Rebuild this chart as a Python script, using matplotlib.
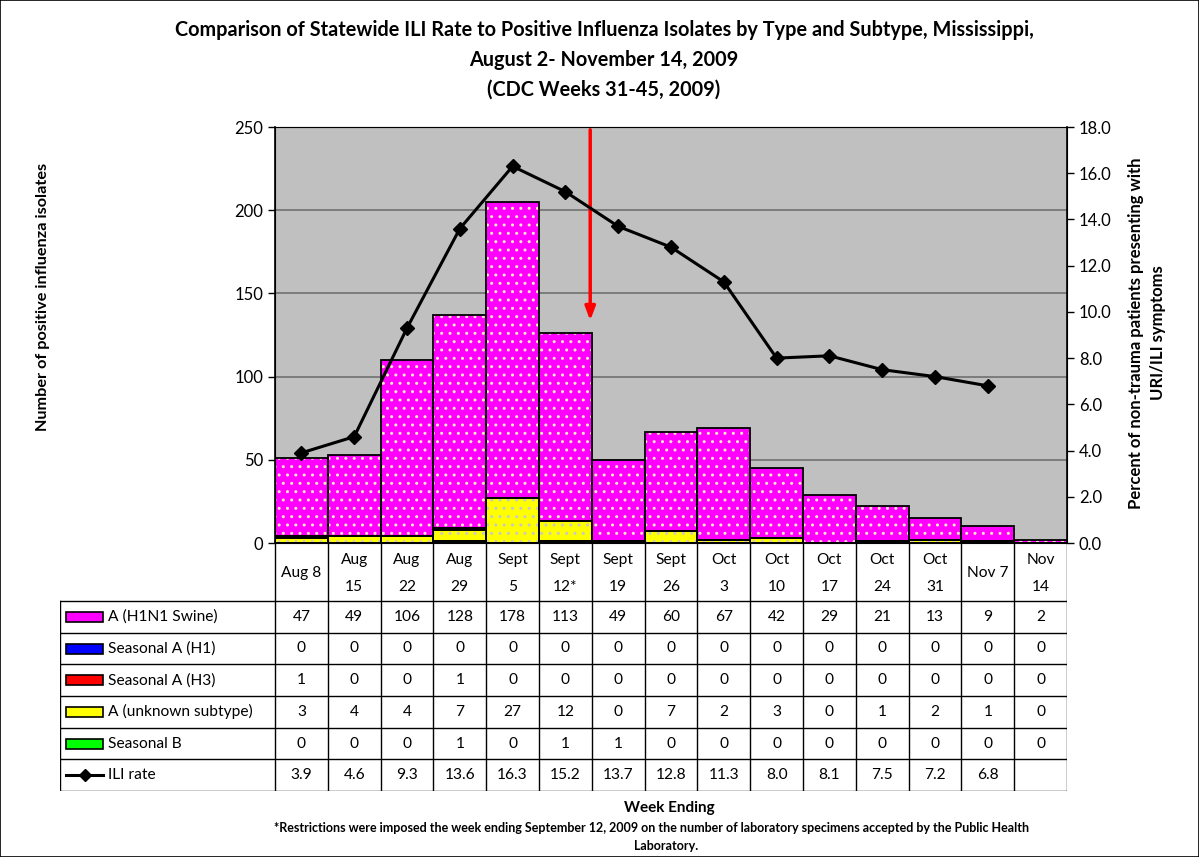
import numpy as np
import matplotlib
matplotlib.use("Agg")
import matplotlib.pyplot as plt
from matplotlib.patches import Rectangle

plt.rcParams['font.family'] = ['Lato', 'DejaVu Sans']

weeks = ["Aug 8", "Aug\n15", "Aug\n22", "Aug\n29", "Sept\n5", "Sept\n12*", "Sept\n19",
         "Sept\n26", "Oct\n3", "Oct\n10", "Oct\n17", "Oct\n24", "Oct\n31", "Nov 7", "Nov\n14"]
h1n1 = [47, 49, 106, 128, 178, 113, 49, 60, 67, 42, 29, 21, 13, 9, 2]
sea_h1 = [0, 0, 0, 0, 0, 0, 0, 0, 0, 0, 0, 0, 0, 0, 0]
sea_h3 = [1, 0, 0, 1, 0, 0, 0, 0, 0, 0, 0, 0, 0, 0, 0]
unknown = [3, 4, 4, 7, 27, 12, 0, 7, 2, 3, 0, 1, 2, 1, 0]
sea_b = [0, 0, 0, 1, 0, 1, 1, 0, 0, 0, 0, 0, 0, 0, 0]
ili = [3.9, 4.6, 9.3, 13.6, 16.3, 15.2, 13.7, 12.8, 11.3, 8.0, 8.1, 7.5, 7.2, 6.8, None]

series_names = ["A (H1N1 Swine)", "Seasonal A (H1)", "Seasonal A (H3)", "A (unknown subtype)", "Seasonal B"]
series_vals = [h1n1, sea_h1, sea_h3, unknown, sea_b]
series_cols = ["#FF00FF", "#0000FF", "#FF0000", "#FFFF00", "#00FF00"]
dot_cols = ["#FFE8C0", "#B0B0FF", "#FFC0C0", "#C8C8C8", "#C0FFC0"]

W, H = 1199, 857
fig = plt.figure(figsize=(W / 100, H / 100), dpi=100)
fig.patches.append(Rectangle((0, 0), 1, 1, transform=fig.transFigure, fill=False,
                             edgecolor="black", linewidth=1.2))

def fx(px):
    return px / W

def fy(py):
    return 1 - py / H

L, R, T, B = 275, 1067, 127, 543
ax = fig.add_axes([fx(L), fy(B), fx(R) - fx(L), fy(T) - fy(B)])
ax.set_facecolor("#C0C0C0")
n = len(weeks)
x = np.arange(n)
ax.set_xlim(-0.5, n - 0.5)
ax.set_ylim(0, 250)
ax.set_yticks([0, 50, 100, 150, 200, 250])
for gy in [50, 100, 150, 200]:
    ax.axhline(gy, color="#707070", linewidth=1.2, zorder=1)
ax.set_xticks([])

# stacked bars: bottom = Seasonal B, top = H1N1
order = [4, 3, 2, 1, 0]
bottom = np.zeros(n)
plt.rcParams['hatch.linewidth'] = 1.0
for i in order:
    v = np.array(series_vals[i], dtype=float)
    ax.bar(x, v, width=1.0, bottom=bottom, color=series_cols[i], edgecolor=dot_cols[i],
           hatch="..", linewidth=0, zorder=2)
    ax.bar(x, v, width=1.0, bottom=bottom, facecolor="none", edgecolor="black",
           linewidth=1.3, zorder=3)
    bottom += v

ax.tick_params(axis="y", labelsize=12, length=5, direction="out", width=1)
ax.spines["top"].set_color("#808080")
ax.spines["left"].set_linewidth(1.2)
ax.spines["bottom"].set_linewidth(1.2)

ax2 = ax.twinx()
ax2.set_ylim(0, 18)
ax2.set_yticks(np.arange(0, 18.1, 2))
ax2.set_yticklabels([f"{v:.1f}" for v in np.arange(0, 18.1, 2)])
ax2.tick_params(axis="y", labelsize=12, length=5, direction="out", width=1)
ax2.spines["right"].set_linewidth(1.2)
ili_arr = np.array([np.nan if v is None else v for v in ili])
ax2.plot(x, ili_arr, color="black", linewidth=2.2, marker="D", markersize=7, zorder=5)

# red arrow
ax.annotate("", xy=(5.47, 132), xytext=(5.47, 250),
            arrowprops=dict(arrowstyle="-|>,head_width=0.3,head_length=0.8",
                            color="red", linewidth=2.5), zorder=6)

fig.text(fx(43), fy(297), "Number of positive influenza isolates", rotation=90,
         ha="center", va="center", fontsize=11.7, fontweight="bold")
fig.text(fx(1147), fy(333), "Percent of non-trauma patients presenting with\nURI/ILI symptoms",
         rotation=90, ha="center", va="center", fontsize=12, fontweight="bold",
         linespacing=1.4)

# titles
tfs = 14.3
fig.text(fx(604), fy(30), "Comparison of Statewide ILI Rate to Positive Influenza Isolates by Type and Subtype, Mississippi,",
         ha="center", va="center", fontsize=tfs, fontweight="bold")
fig.text(fx(604), fy(60), "August 2- November 14, 2009", ha="center", va="center",
         fontsize=tfs, fontweight="bold")
fig.text(fx(604), fy(90), "(CDC Weeks 31-45, 2009)", ha="center", va="center",
         fontsize=tfs, fontweight="bold")

# table
TL, TB = 60, 791
colw = (R - L) / n
tax = fig.add_axes([fx(TL), fy(TB), fx(R) - fx(TL), fy(B) - fy(TB)])
left_units = -0.5 - (L - TL) / colw
tax.set_xlim(left_units, n - 0.5)
tax.set_ylim(TB, B)
tax.axis("off")

hdr_bot = 601
row_h = (TB - hdr_bot) / 6
row_edges = [hdr_bot + k * row_h for k in range(7)]
lc = "black"
for k in range(n + 1):
    xv = -0.5 + k
    tax.plot([xv, xv], [B, TB], color=lc, linewidth=1.0)
tax.plot([left_units, left_units], [hdr_bot, TB], color=lc, linewidth=1.0)
for ye in row_edges:
    tax.plot([left_units, n - 0.5], [ye, ye], color=lc, linewidth=1.0)

for i, w in enumerate(weeks):
    if "\n" in w:
        a, b = w.split("\n")
        tax.text(i, 560, a, ha="center", va="center", fontsize=11.2)
        tax.text(i, 587, b, ha="center", va="center", fontsize=11.2)
    else:
        tax.text(i, 573, w, ha="center", va="center", fontsize=11.2)

key_x0 = left_units + 6 / colw
key_x1 = left_units + 43 / colw
txt_x = left_units + 48 / colw
for r in range(5):
    yc = (row_edges[r] + row_edges[r + 1]) / 2
    tax.add_patch(Rectangle((key_x0, yc - 5), key_x1 - key_x0, 10,
                            facecolor=series_cols[r], edgecolor="black", linewidth=1.2))
    tax.text(txt_x, yc, series_names[r], ha="left", va="center", fontsize=11.2)
    for i in range(n):
        tax.text(i, yc, str(series_vals[r][i]), ha="center", va="center", fontsize=11.2)
yc = (row_edges[5] + row_edges[6]) / 2
tax.plot([key_x0, key_x1], [yc, yc], color="black", linewidth=2.2)
tax.plot([(key_x0 + key_x1) / 2], [yc], marker="D", color="black", markersize=6)
tax.text(txt_x, yc, "ILI rate", ha="left", va="center", fontsize=11.2)
for i in range(n):
    if ili[i] is not None:
        tax.text(i, yc, f"{ili[i]:.1f}", ha="center", va="center", fontsize=11.2)

fig.text(fx(669), fy(808), "Week Ending", ha="center", va="center", fontsize=11,
         fontweight="bold")
fig.text(fx(652), fy(828), "*Restrictions were imposed the week ending September 12, 2009 on the number of laboratory specimens accepted by the Public Health",
         ha="center", va="center", fontsize=9, fontweight="bold")
fig.text(fx(666), fy(846), "Laboratory.", ha="center", va="center", fontsize=9,
         fontweight="bold")

fig.savefig("out.png", dpi=100)
